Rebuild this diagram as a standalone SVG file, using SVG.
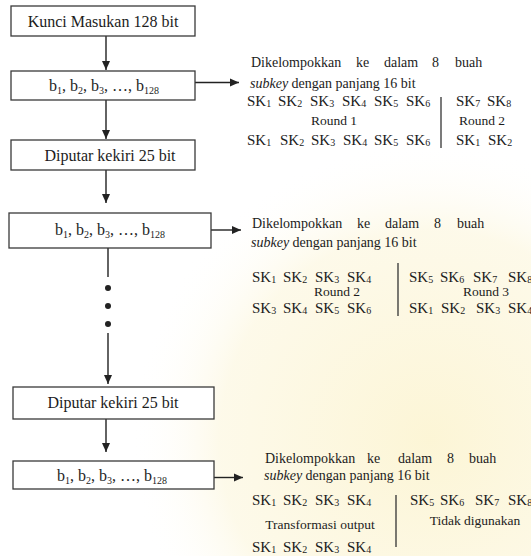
<svg xmlns="http://www.w3.org/2000/svg" width="531" height="556" viewBox="0 0 531 556">
<defs>
<radialGradient id="wm" cx="0.5" cy="0.5" r="0.5">
<stop offset="0" stop-color="#fbf1c4" stop-opacity="0.7"/>
<stop offset="0.7" stop-color="#fbf3cf" stop-opacity="0.45"/>
<stop offset="1" stop-color="#ffffff" stop-opacity="0"/>
</radialGradient>
<marker id="ah" markerWidth="10" markerHeight="10" refX="9" refY="5" orient="auto" markerUnits="userSpaceOnUse">
<path d="M0,1 L9,5 L0,9 Z" fill="#222"/>
</marker>
<style>
.box{fill:#fff;stroke:#3a3a3a;stroke-width:1.3}
.t{font-family:"Liberation Serif","Times New Roman",serif;fill:#1c1c1c}
.bt{font-size:16px;text-anchor:middle}
.d{font-size:14px}
.sk{font-size:15px}
.lb{font-size:13.5px;text-anchor:middle}
.c{stroke:#222;stroke-width:1.4;fill:none}
.bar{stroke:#333;stroke-width:1.3}
</style>
</defs>
<rect width="531" height="556" fill="#fff"/>
<circle cx="430" cy="440" r="300" fill="url(#wm)"/>

<g id="connectors">
<line class="c" x1="106" y1="36" x2="106" y2="70" marker-end="url(#ah)"/>
<line class="c" x1="106" y1="100" x2="106" y2="139" marker-end="url(#ah)"/>
<line class="c" x1="106" y1="170" x2="106" y2="203" marker-end="url(#ah)"/>
<line class="c" x1="108" y1="248" x2="108" y2="277"/>
<circle cx="108" cy="288" r="3" fill="#222"/>
<circle cx="108" cy="306" r="3" fill="#222"/>
<circle cx="108" cy="324" r="3" fill="#222"/>
<line class="c" x1="108" y1="333" x2="108" y2="384" marker-end="url(#ah)"/>
<line class="c" x1="106" y1="419" x2="106" y2="452" marker-end="url(#ah)"/>
<line class="c" x1="195" y1="82.5" x2="239" y2="82.5" marker-end="url(#ah)"/>
<line class="c" x1="211" y1="230" x2="241" y2="230" marker-end="url(#ah)"/>
<line class="c" x1="214" y1="477.5" x2="243" y2="477.5" marker-end="url(#ah)"/>
</g>

<g id="n1">
<rect class="box" x="11" y="6" width="184" height="30"/>
<text class="t bt" x="103" y="27">Kunci Masukan 128 bit</text>
</g>
<g id="n2">
<rect class="box" x="11" y="71" width="184" height="29"/>
<text class="t bt" x="104" y="91">b<tspan font-size="10" dy="3">1</tspan><tspan dy="-3">, b</tspan><tspan font-size="10" dy="3">2</tspan><tspan dy="-3">, b</tspan><tspan font-size="10" dy="3">3</tspan><tspan dy="-3">, …, b</tspan><tspan font-size="10" dy="3">128</tspan></text>
</g>
<g id="n3">
<rect class="box" x="11" y="140" width="184" height="30"/>
<text class="t bt" x="110" y="161">Diputar kekiri 25 bit</text>
</g>
<g id="n4">
<rect class="box" x="9" y="213" width="202" height="35"/>
<text class="t bt" x="110" y="235">b<tspan font-size="10" dy="3">1</tspan><tspan dy="-3">, b</tspan><tspan font-size="10" dy="3">2</tspan><tspan dy="-3">, b</tspan><tspan font-size="10" dy="3">3</tspan><tspan dy="-3">, …, b</tspan><tspan font-size="10" dy="3">128</tspan></text>
</g>
<g id="n5">
<rect class="box" x="13" y="387" width="201" height="32"/>
<text class="t bt" x="113" y="408">Diputar kekiri 25 bit</text>
</g>
<g id="n6">
<rect class="box" x="13" y="461" width="201" height="28"/>
<text class="t bt" x="112" y="481">b<tspan font-size="10" dy="3">1</tspan><tspan dy="-3">, b</tspan><tspan font-size="10" dy="3">2</tspan><tspan dy="-3">, b</tspan><tspan font-size="10" dy="3">3</tspan><tspan dy="-3">, …, b</tspan><tspan font-size="10" dy="3">128</tspan></text>
</g>

<g id="s1">
<text class="t d" y="67"><tspan x="251">Dikelompokkan</tspan><tspan x="356">ke</tspan><tspan x="384">dalam</tspan><tspan x="432">8</tspan><tspan x="455">buah</tspan></text>
<text class="t d" x="250" y="88"><tspan font-style="italic">subkey</tspan> dengan panjang 16 bit</text>
<g class="t sk">
<text x="247" y="106">SK<tspan font-size="10" dy="1">1</tspan></text>
<text x="278" y="106">SK<tspan font-size="10" dy="1">2</tspan></text>
<text x="310" y="106">SK<tspan font-size="10" dy="1">3</tspan></text>
<text x="342" y="106">SK<tspan font-size="10" dy="1">4</tspan></text>
<text x="374" y="106">SK<tspan font-size="10" dy="1">5</tspan></text>
<text x="406" y="106">SK<tspan font-size="10" dy="1">6</tspan></text>
<text x="456" y="106">SK<tspan font-size="10" dy="1">7</tspan></text>
<text x="487" y="106">SK<tspan font-size="10" dy="1">8</tspan></text>
<text x="247" y="145">SK<tspan font-size="10" dy="1">1</tspan></text>
<text x="280" y="145">SK<tspan font-size="10" dy="1">2</tspan></text>
<text x="311" y="145">SK<tspan font-size="10" dy="1">3</tspan></text>
<text x="343" y="145">SK<tspan font-size="10" dy="1">4</tspan></text>
<text x="374" y="145">SK<tspan font-size="10" dy="1">5</tspan></text>
<text x="406" y="145">SK<tspan font-size="10" dy="1">6</tspan></text>
<text x="456" y="145">SK<tspan font-size="10" dy="1">1</tspan></text>
<text x="488" y="145">SK<tspan font-size="10" dy="1">2</tspan></text>
</g>
<text class="t lb" x="334" y="125">Round 1</text>
<text class="t lb" x="482" y="125">Round 2</text>
<line class="bar" x1="441" y1="97" x2="441" y2="148"/>
</g>

<g id="s2">
<text class="t d" y="228"><tspan x="252">Dikelompokkan</tspan><tspan x="357">ke</tspan><tspan x="385">dalam</tspan><tspan x="434">8</tspan><tspan x="457">buah</tspan></text>
<text class="t d" x="251" y="247"><tspan font-style="italic">subkey</tspan> dengan panjang 16 bit</text>
<g class="t sk">
<text x="252" y="282">SK<tspan font-size="10" dy="1">1</tspan></text>
<text x="283" y="282">SK<tspan font-size="10" dy="1">2</tspan></text>
<text x="315" y="282">SK<tspan font-size="10" dy="1">3</tspan></text>
<text x="347" y="282">SK<tspan font-size="10" dy="1">4</tspan></text>
<text x="409" y="282">SK<tspan font-size="10" dy="1">5</tspan></text>
<text x="440" y="282">SK<tspan font-size="10" dy="1">6</tspan></text>
<text x="473" y="282">SK<tspan font-size="10" dy="1">7</tspan></text>
<text x="508" y="282">SK<tspan font-size="10" dy="1">8</tspan></text>
<text x="252" y="313">SK<tspan font-size="10" dy="1">3</tspan></text>
<text x="283" y="313">SK<tspan font-size="10" dy="1">4</tspan></text>
<text x="315" y="313">SK<tspan font-size="10" dy="1">5</tspan></text>
<text x="347" y="313">SK<tspan font-size="10" dy="1">6</tspan></text>
<text x="409" y="313">SK<tspan font-size="10" dy="1">1</tspan></text>
<text x="441" y="313">SK<tspan font-size="10" dy="1">2</tspan></text>
<text x="476" y="313">SK<tspan font-size="10" dy="1">3</tspan></text>
<text x="508" y="313">SK<tspan font-size="10" dy="1">4</tspan></text>
</g>
<text class="t lb" x="337" y="296">Round 2</text>
<text class="t lb" x="486" y="296">Round 3</text>
<line class="bar" x1="398" y1="263" x2="398" y2="316"/>
</g>

<g id="s3">
<text class="t d" y="463"><tspan x="265">Dikelompokkan</tspan><tspan x="367">ke</tspan><tspan x="398">dalam</tspan><tspan x="447">8</tspan><tspan x="469">buah</tspan></text>
<text class="t d" x="264" y="480"><tspan font-style="italic">subkey</tspan> dengan panjang 16 bit</text>
<g class="t sk">
<text x="252" y="505">SK<tspan font-size="10" dy="1">1</tspan></text>
<text x="283" y="505">SK<tspan font-size="10" dy="1">2</tspan></text>
<text x="315" y="505">SK<tspan font-size="10" dy="1">3</tspan></text>
<text x="347" y="505">SK<tspan font-size="10" dy="1">4</tspan></text>
<text x="410" y="505">SK<tspan font-size="10" dy="1">5</tspan></text>
<text x="440" y="505">SK<tspan font-size="10" dy="1">6</tspan></text>
<text x="475" y="505">SK<tspan font-size="10" dy="1">7</tspan></text>
<text x="508" y="505">SK<tspan font-size="10" dy="1">8</tspan></text>
<text x="252" y="552">SK<tspan font-size="10" dy="1">1</tspan></text>
<text x="283" y="552">SK<tspan font-size="10" dy="1">2</tspan></text>
<text x="315" y="552">SK<tspan font-size="10" dy="1">3</tspan></text>
<text x="347" y="552">SK<tspan font-size="10" dy="1">4</tspan></text>
</g>
<text class="t lb" x="320" y="529">Transformasi output</text>
<text class="t lb" x="475" y="525">Tidak digunakan</text>
<line class="bar" x1="396" y1="495" x2="396" y2="547"/>
</g>
</svg>
